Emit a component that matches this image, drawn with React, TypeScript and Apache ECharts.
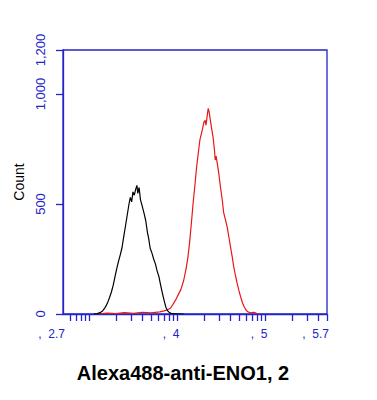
import React, { useEffect, useRef } from "react";
import * as echarts from "echarts";

// x values are log10 of fluorescence intensity
const isotypeData: [number, number][] = [
  [3.05, 0], [3.09, 2], [3.12, 6], [3.15, 14], [3.17, 24], [3.19, 38], [3.21, 55], [3.23, 76],
  [3.25, 100], [3.27, 130], [3.29, 168], [3.31, 205], [3.33, 238], [3.35, 268], [3.37, 300],
  [3.39, 352], [3.41, 400], [3.43, 450], [3.45, 500], [3.465, 530], [3.48, 510], [3.495, 555],
  [3.51, 540], [3.525, 565], [3.54, 585], [3.55, 548], [3.565, 575], [3.58, 520], [3.6, 490],
  [3.62, 460], [3.64, 425], [3.66, 370], [3.675, 340], [3.69, 300], [3.71, 278], [3.73, 250],
  [3.75, 228], [3.77, 195], [3.79, 170], [3.81, 130], [3.83, 94], [3.85, 60], [3.87, 30],
  [3.89, 14], [3.91, 6], [3.93, 3], [3.96, 2], [4.0, 1], [4.07, 0],
];

const enoData: [number, number][] = [
  [3.1, 0], [3.2, 4], [3.3, 2], [3.4, 6], [3.5, 3], [3.6, 8], [3.7, 5], [3.8, 10], [3.85, 14],
  [3.88, 18], [3.92, 26], [3.95, 44], [3.98, 64], [4.01, 88], [4.04, 112], [4.07, 150],
  [4.1, 208], [4.12, 260], [4.14, 330], [4.16, 418], [4.18, 510], [4.2, 590], [4.22, 675],
  [4.24, 740], [4.255, 790], [4.27, 815], [4.285, 840], [4.3, 870], [4.315, 880], [4.325, 858],
  [4.34, 905], [4.35, 935], [4.36, 920], [4.375, 880], [4.39, 840], [4.405, 805], [4.42, 750],
  [4.43, 700], [4.44, 718], [4.455, 680], [4.47, 640], [4.49, 575], [4.51, 518], [4.525, 462],
  [4.545, 430], [4.565, 397], [4.585, 350], [4.605, 302], [4.625, 255], [4.64, 215],
  [4.66, 175], [4.68, 138], [4.7, 105], [4.72, 76], [4.74, 50], [4.76, 32], [4.78, 18],
  [4.8, 10], [4.83, 5], [4.87, 8], [4.9, 3], [4.93, 0],
];

const xLabelValues = [2.7, 4, 5, 5.7];
const xTickValues = [
  2.778, 2.845, 2.903, 2.954, 3, 3.301, 3.477, 3.602, 3.699, 3.778, 3.845, 3.903, 3.954, 4,
  4.301, 4.477, 4.602, 4.699, 4.778, 4.845, 4.903, 4.954, 5, 5.301, 5.477, 5.602, 5.7,
];
const yTickValues = [0, 500, 1000, 1200];

const BLUE = "#2424c8";
const FONT = "'Liberation Sans', Arial, sans-serif";

export default function App() {
  const ref = useRef<HTMLDivElement>(null);
  useEffect(() => {
    if (!ref.current) return;
    const chart = echarts.init(ref.current, null, { renderer: "svg" });
    chart.setOption({
      animation: false,
      backgroundColor: "#ffffff",
      grid: {
        left: 63,
        top: 50,
        width: 264,
        height: 264,
        show: true,
        borderColor: BLUE,
        borderWidth: 1.3,
        backgroundColor: "transparent",
      },
      xAxis: {
        type: "value",
        min: 2.7,
        max: 5.7,
        axisLine: { show: true, onZero: false, lineStyle: { color: BLUE, width: 1.3 } },
        axisTick: {
          show: true,
          length: 7,
          customValues: xTickValues,
          lineStyle: { color: BLUE, width: 1.3 },
        },
        axisLabel: {
          customValues: xLabelValues,
          formatter: (v: number) => ",  " + String(v),
          color: BLUE,
          fontFamily: FONT,
          fontSize: 12,
          margin: 14,
          align: "right",
          padding: [0, -2, 0, 0],
        },
        splitLine: { show: false },
      },
      yAxis: {
        type: "value",
        min: 0,
        max: 1200,
        name: "Count",
        nameLocation: "middle",
        nameGap: 35,
        nameRotate: 90,
        nameTextStyle: {
          color: "#000",
          fontFamily: FONT,
          fontSize: 14,
        },
        axisLine: { show: true, lineStyle: { color: BLUE, width: 1.3 } },
        axisTick: {
          show: true,
          length: 7,
          customValues: yTickValues,
          lineStyle: { color: BLUE, width: 1.3 },
        },
        axisLabel: {
          customValues: yTickValues,
          rotate: 90,
          formatter: (v: number) => String(v).replace(/\B(?=(\d{3})+(?!\d))/g, ","),
          color: BLUE,
          fontFamily: FONT,
          fontSize: 13,
          margin: 16,
        },
        splitLine: { show: false },
      },
      series: [
        {
          type: "line",
          data: enoData,
          showSymbol: false,
          lineStyle: { color: "#e8161a", width: 1.2 },
          z: 3,
        },
        {
          type: "line",
          data: isotypeData,
          showSymbol: false,
          lineStyle: { color: "#000000", width: 1.2 },
          z: 4,
        },
      ],
      graphic: [
        {
          type: "text",
          x: 183,
          y: 373,
          style: {
            text: "Alexa488-anti-ENO1, 2",
            fill: "#000",
            font: "bold 20px 'Liberation Sans', Arial, sans-serif",
            textAlign: "center",
            textVerticalAlign: "middle",
          },
        },
      ],
    });
    return () => chart.dispose();
  }, []);
  return <div ref={ref} style={{ width: 377, height: 400, position: "absolute", left: 0, top: 0 }} />;
}
